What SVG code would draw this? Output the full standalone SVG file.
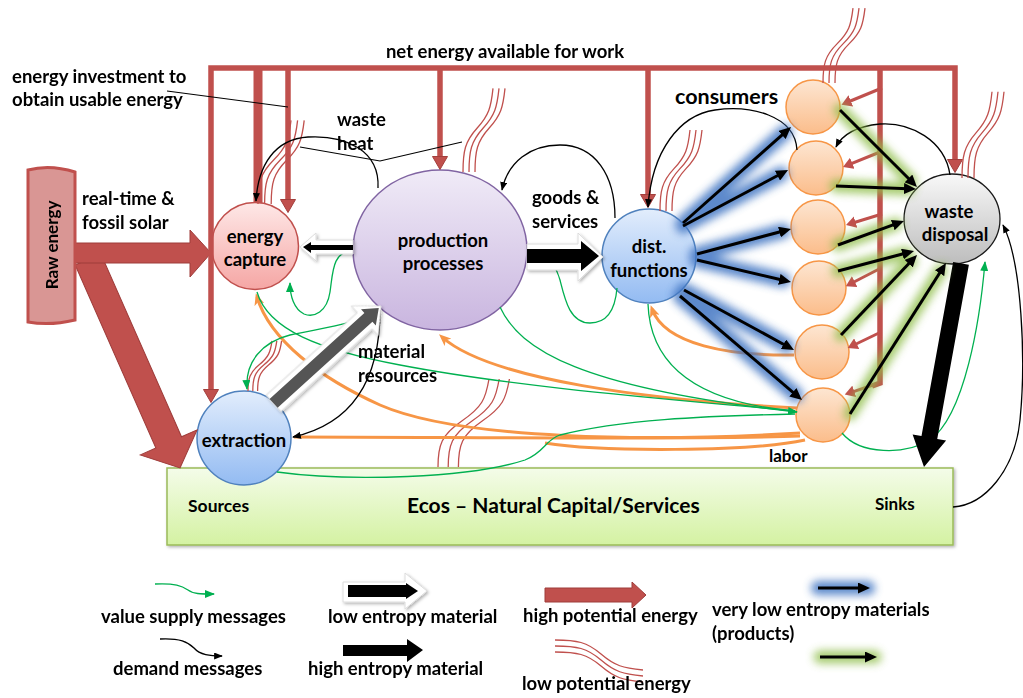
<svg xmlns="http://www.w3.org/2000/svg" xmlns:xlink="http://www.w3.org/1999/xlink" width="1023" height="698" viewBox="0 0 1023 698">
  <style>
    .t { font-family: Lato, "Open Sans", "Liberation Sans", sans-serif; font-weight: 700; fill: #000; font-size: 18.5px; }
    .dm { fill: none; stroke: #000; stroke-width: 1.3; }
    .sp { fill: none; stroke: #00b050; stroke-width: 1.3; }
    .lb { fill: none; stroke: #f79646; stroke-width: 3; }
    .re { fill: none; stroke: #c0504d; stroke-width: 5.5; }
    .ra { fill: none; stroke: #c0504d; stroke-width: 3; marker-end: url(#mRs); }
    .ar { fill: none; stroke: #000; stroke-width: 3; marker-end: url(#mArr); }
    .wv path { fill: none; stroke: #c0504d; stroke-width: 1.3; vector-effect: non-scaling-stroke; }
  </style>
  <defs>
    <linearGradient id="gCap" x1="0" y1="0" x2="0" y2="1"><stop offset="0" stop-color="#fee8e7"/><stop offset="1" stop-color="#f5a6a4"/></linearGradient>
    <linearGradient id="gProd" x1="0" y1="0" x2="0" y2="1"><stop offset="0" stop-color="#f0ebf7"/><stop offset="1" stop-color="#c9b5df"/></linearGradient>
    <linearGradient id="gBlue" x1="0" y1="0" x2="0" y2="1"><stop offset="0" stop-color="#e2edfc"/><stop offset="1" stop-color="#93bbf2"/></linearGradient>
    <linearGradient id="gOra" x1="0" y1="0" x2="0" y2="1"><stop offset="0" stop-color="#fde6d2"/><stop offset="1" stop-color="#fbbd8b"/></linearGradient>
    <linearGradient id="gGrey" x1="0" y1="0" x2="0" y2="1"><stop offset="0" stop-color="#f8f8f8"/><stop offset="1" stop-color="#bdbdbd"/></linearGradient>
    <linearGradient id="gEcos" x1="0" y1="0" x2="0" y2="1"><stop offset="0" stop-color="#f4fce9"/><stop offset="1" stop-color="#d4f2a2"/></linearGradient>
    <filter id="blur" filterUnits="userSpaceOnUse" x="0" y="0" width="1023" height="698"><feGaussianBlur stdDeviation="4.5"/></filter>
    <filter id="shd" filterUnits="userSpaceOnUse" x="0" y="0" width="1023" height="698"><feDropShadow dx="1.5" dy="1.5" stdDeviation="1.5" flood-color="#000" flood-opacity="0.3"/></filter>
    <marker id="mk" viewBox="0 0 10 8" refX="9" refY="4" markerWidth="9" markerHeight="7" orient="auto" markerUnits="userSpaceOnUse"><path d="M0,0 L10,4 L0,8 Z" fill="#000"/></marker>
    <marker id="mkG" viewBox="0 0 10 8" refX="9" refY="4" markerWidth="10" markerHeight="8" orient="auto" markerUnits="userSpaceOnUse"><path d="M0,0 L10,4 L0,8 Z" fill="#00b050"/></marker>
    <marker id="mkO" viewBox="0 0 12 10" refX="8" refY="5" markerWidth="12" markerHeight="10" orient="auto" markerUnits="userSpaceOnUse"><path d="M0,0 L12,5 L0,10 L3,5 Z" fill="#f79646"/></marker>
    <marker id="mArr" viewBox="0 0 12 11" refX="4" refY="5.5" markerWidth="12" markerHeight="11" orient="auto" markerUnits="userSpaceOnUse"><path d="M0,0 L12,5.5 L0,11 Z" fill="#000"/></marker>
    <marker id="mRed" viewBox="0 0 14 16" refX="4" refY="8" markerWidth="14" markerHeight="16" orient="auto-start-reverse" markerUnits="userSpaceOnUse"><path d="M0.5,0.5 L13.5,8 L0.5,15.5 Z" fill="#c0504d" stroke="#a33f3c" stroke-width="1"/></marker>
    <marker id="mRs" viewBox="0 0 10 12" refX="3" refY="6" markerWidth="10" markerHeight="12" orient="auto" markerUnits="userSpaceOnUse"><path d="M0,0 L10,6 L0,12 Z" fill="#c0504d"/></marker>
    <g id="wv" class="wv">
      <path d="M0,0 C0,-22 2,-32 14,-46 C26,-60 28,-68 30,-88"/>
      <path d="M6,0 C6,-22 8,-32 20,-46 C32,-60 34,-68 36,-88"/>
      <path d="M12,0 C12,-22 14,-32 26,-46 C38,-60 40,-68 42,-88"/>
    </g>
  </defs>

  <rect width="1023" height="698" fill="#fff"/>

  <!-- environment: sources and sinks -->
  <g id="ecos">
    <rect x="167" y="468" width="786" height="77" fill="url(#gEcos)" stroke="#9bbb59" stroke-width="1.5" filter="url(#shd)"/>
    <text class="t" x="188" y="512" style="font-size:17.5px">Sources</text>
    <text class="t" x="407" y="513" style="font-size:21px">Ecos – Natural Capital/Services</text>
    <text class="t" x="875" y="510" style="font-size:17px">Sinks</text>
  </g>

  <g id="energy-capture">
    <circle cx="255" cy="246" r="43.5" fill="url(#gCap)" stroke="#c0504d" stroke-width="1.5"/>
    <text class="t" x="255" y="243" text-anchor="middle">energy</text>
    <text class="t" x="255" y="266" text-anchor="middle">capture</text>
  </g>

  <g id="production">
    <ellipse cx="440" cy="250" rx="87" ry="80" fill="url(#gProd)" stroke="#8064a2" stroke-width="1.5"/>
    <text class="t" x="443" y="247" text-anchor="middle">production</text>
    <text class="t" x="443" y="270" text-anchor="middle">processes</text>
  </g>

  <g id="dist-functions">
    <circle cx="649" cy="256" r="47" fill="url(#gBlue)" stroke="#4f81bd" stroke-width="1.5"/>
    <text class="t" x="649" y="253" text-anchor="middle">dist.</text>
    <text class="t" x="649" y="277" text-anchor="middle">functions</text>
  </g>

  <g id="extraction">
    <circle cx="244" cy="438" r="47" fill="url(#gBlue)" stroke="#4f81bd" stroke-width="1.5"/>
    <text class="t" x="244" y="447" text-anchor="middle">extraction</text>
  </g>

  <g id="consumers">
    <text class="t" x="675" y="104" style="font-size:21.5px">consumers</text>
    <circle cx="813" cy="107" r="27" fill="url(#gOra)" stroke="#f79646" stroke-width="1.5"/>
    <circle cx="816" cy="168" r="27" fill="url(#gOra)" stroke="#f79646" stroke-width="1.5"/>
    <circle cx="818" cy="227" r="27" fill="url(#gOra)" stroke="#f79646" stroke-width="1.5"/>
    <circle cx="819" cy="288" r="27" fill="url(#gOra)" stroke="#f79646" stroke-width="1.5"/>
    <circle cx="822" cy="352" r="27" fill="url(#gOra)" stroke="#f79646" stroke-width="1.5"/>
    <circle cx="823" cy="415" r="27" fill="url(#gOra)" stroke="#f79646" stroke-width="1.5"/>
    <text class="t" x="769" y="462" style="font-size:17px">labor</text>
  </g>

  <g id="waste-disposal">
    <ellipse cx="952" cy="219" rx="48" ry="45" fill="url(#gGrey)" stroke="#1a1a1a" stroke-width="1.3"/>
    <text class="t" x="949" y="218" text-anchor="middle">waste</text>
    <text class="t" x="955" y="241" text-anchor="middle">disposal</text>
  </g>

  <g id="connectors">
    <!-- raw energy feeds -->
    <path d="M0,0 L-28,-31 L-28,-14 L-228,-14 L-228,14 L-28,14 L-28,31 Z" transform="translate(180,468) rotate(66.2)" fill="#c0504d" stroke="#9e3c3a" stroke-width="1"/>
    <path d="M72,243 L190,243 L190,230 L211,253 L190,277 L190,263 L72,263 Z" fill="#c0504d" stroke="#9e3c3a" stroke-width="1"/>

    <!-- net energy distribution frame -->
    <path class="re" d="M211,393 L211,68 L955,68 L955,163" marker-start="url(#mRed)" marker-end="url(#mRed)"/>
    <path d="M258,70 L258,203" fill="none" stroke="#c0504d" stroke-width="9"/>
    <path class="re" d="M288,70 L288,203" marker-end="url(#mRed)"/>
    <path class="re" d="M440,70 L440,160" marker-end="url(#mRed)"/>
    <path class="re" d="M648,70 L648,198" marker-end="url(#mRed)"/>
    <path class="re" d="M880,70 L880,383 L872,386"/>
    <path class="ra" d="M882,88 L848,102"/>
    <path class="ra" d="M880,152 L849.5,164.4"/>
    <path class="ra" d="M882,214 L852.7,223"/>
    <path class="ra" d="M881,268 L852,283"/>
    <path class="ra" d="M881,332 L854,345"/>
    <path class="ra" d="M873,385 L851.4,392.3"/>

    <!-- low potential energy (waste heat) -->
    <use href="#wv" transform="translate(258,204) scale(1.1,0.95)"/>
    <use href="#wv" transform="translate(463,172) scale(1,0.95)"/>
    <use href="#wv" transform="translate(660,211) scale(1,0.92)"/>
    <use href="#wv" transform="translate(823,83) scale(1,0.85)"/>
    <use href="#wv" transform="translate(962,178) scale(1,0.98)"/>
    <use href="#wv" transform="translate(248,391) scale(0.8,0.57)"/>
    <use href="#wv" transform="translate(438,467) scale(1.7,1)"/>

    <!-- callout lines -->
    <path d="M167,91 L288,107" fill="none" stroke="#000" stroke-width="1.2"/>
    <path d="M300,147 L380,161 L462,142" fill="none" stroke="#000" stroke-width="1.2"/>

    <!-- labor flows -->
    <path class="lb" d="M800,433 C650,442 460,440 380,405 C320,378 270,340 257,297" marker-end="url(#mkO)"/>
    <path class="lb" d="M797,408 C650,400 490,380 442,337" marker-end="url(#mkO)"/>
    <path class="lb" d="M800,436 C700,440 450,437 294,437"/>
    <path class="lb" d="M805,440 C750,452 600,452 545,443"/>
    <path class="lb" d="M794,355 C730,356 665,345 652,309" marker-end="url(#mkO)"/>

    <!-- value supply messages -->
    <path class="sp" d="M353,250 C332,252 333,272 330,292 C327,312 314,318 304,314 C294,309 290,296 290,283" marker-end="url(#mkG)"/>
    <path class="sp" d="M617,288 C615,312 605,323 590,323 C570,323 565,300 560,280 C555,262 545,252 528,250" marker-end="url(#mkG)"/>
    <path class="sp" d="M257,292 C268,330 320,350 400,365 C520,388 680,400 795,411"/>
    <path class="sp" d="M500,307 C520,350 580,388 797,412" marker-end="url(#mkG)"/>
    <path class="sp" d="M648,304 C650,360 690,402 795,411"/>
    <path class="sp" d="M277,472 C350,482 470,478 525,460 C545,452 545,440 560,435 C620,420 700,416 795,414"/>
    <path class="sp" d="M378,308 C360,325 320,328 290,335 C262,342 245,362 247,389" marker-end="url(#mkG)"/>
    <path class="sp" d="M842,433 C860,455 905,455 930,440 C965,415 980,320 985,262" marker-end="url(#mkG)"/>

    <!-- demand messages -->
    <path class="dm" d="M378,188 C380,150 345,135 308,137 C275,139 258,165 256,201" marker-end="url(#mk)"/>
    <path class="dm" d="M615,218 C615,175 595,145 560,145 C530,145 508,162 502,190" marker-end="url(#mk)"/>
    <path class="dm" d="M797,150 C795,115 750,105 715,110 C680,115 652,150 648,207" marker-end="url(#mk)"/>
    <path class="dm" d="M950,175 C945,140 910,122 880,124 C860,126 843,133 836,147" marker-end="url(#mk)"/>
    <path class="dm" d="M953,507 C985,505 1015,470 1020,420 C1026,360 1022,262 1003,225" marker-end="url(#mk)"/>
    <path class="dm" d="M380,310 C380,370 360,422 293,437" marker-end="url(#mk)"/>

    <!-- material flows -->
    <g filter="url(#shd)">
      <path d="M300,247 L316,233 L316,240 L353,240 L353,254 L316,254 L316,261 Z" fill="#fff" stroke="#dcdcdc" stroke-width="1"/>
      <path d="M603,257 L578,233 L578,244 L527,244 L527,270 L578,270 L578,281 Z" fill="#fff" stroke="#dcdcdc" stroke-width="1"/>
      <path d="M0,0 L-22,-20 L-22,-11 L-145,-11 L-145,11 L-22,11 L-22,20 Z" transform="translate(381,306) rotate(-42.2)" fill="#fff" stroke="#dcdcdc" stroke-width="1"/>
    </g>
    <path d="M303,247 L311,242 L311,245 L353,245 L353,250 L311,250 L311,253 Z" fill="#000"/>
    <path d="M599,256 L581,241 L581,249 L527,249 L527,263 L581,263 L581,271 Z" fill="#000"/>
    <path d="M-3,0 L-17,-11 L-17,-6 L-145,-6 L-145,6 L-17,6 L-17,11 Z" transform="translate(381,306) rotate(-42.2)" fill="#555"/>
    <path d="M0,0 L-30,-17 L-30,-8 L-207,-8 L-207,8 L-30,8 L-30,17 Z" transform="translate(924,467) rotate(100.3)" fill="#000"/>

    <!-- products to consumers -->
    <g filter="url(#blur)" stroke="#3f74c2" stroke-width="15" stroke-linecap="round" opacity="0.85" fill="none">
      <path d="M683,223 L785,132"/>
      <path d="M683,226 L781,174"/>
      <path d="M697,254 L783,231"/>
      <path d="M697,260 L783,280"/>
      <path d="M684,290 L787,346"/>
      <path d="M680,296 L796,395"/>
    </g>
    <path class="ar" d="M683,223 L785,132.3"/>
    <path class="ar" d="M683,226 L781,173.8"/>
    <path class="ar" d="M697,254 L783.3,231"/>
    <path class="ar" d="M697,260 L783.2,280.2"/>
    <path class="ar" d="M684,290 L787,346.2"/>
    <path class="ar" d="M680,296 L795.9,394.8"/>

    <!-- consumer waste -->
    <g filter="url(#blur)" stroke="#8fbe4a" stroke-width="13" stroke-linecap="round" opacity="0.8" fill="none">
      <path d="M840,110 L911,181"/>
      <path d="M836,186 L908,189"/>
      <path d="M838,245 L896,224"/>
      <path d="M838,271 L906,253"/>
      <path d="M841,335 L911,261"/>
      <path d="M850,414 L941,270"/>
    </g>
    <path class="ar" d="M840,110 L911.3,181.3"/>
    <path class="ar" d="M836,186 L908,188.7"/>
    <path class="ar" d="M838,245 L896.5,223.7"/>
    <path class="ar" d="M838,271 L906.3,253"/>
    <path class="ar" d="M841,335 L911.5,260.8"/>
    <path class="ar" d="M850,414 L941.7,269.8"/>
  </g>

  <g id="raw-energy">
    <path d="M28,170 Q50,164 75,172 L75,320 Q50,326 28,322 Z" fill="#d99694" stroke="#c0504d" stroke-width="3"/>
    <text class="t" transform="translate(58,245) rotate(-90)" style="font-size:17px" text-anchor="middle">Raw energy</text>
  </g>

  <g id="labels">
    <text class="t" x="505" y="58" text-anchor="middle">net energy available for work</text>
    <text class="t" x="12" y="83">energy investment to</text>
    <text class="t" x="12" y="106">obtain usable energy</text>
    <text class="t" x="337" y="126">waste</text>
    <text class="t" x="337" y="150">heat</text>
    <text class="t" x="82" y="205">real-time  &amp;</text>
    <text class="t" x="82" y="229">fossil solar</text>
    <text class="t" x="532" y="204">goods &amp;</text>
    <text class="t" x="532" y="228">services</text>
    <text class="t" x="358" y="358">material</text>
    <text class="t" x="358" y="382">resources</text>
  </g>

  <g id="legend">
    <path class="sp" d="M155,584 C175,583 182,586 188,590 C193,594 200,594 214,594" marker-end="url(#mkG)"/>
    <text class="t" x="101" y="623">value supply messages</text>
    <path class="dm" d="M160,639 C180,638 188,642 194,648 C200,655 210,656 222,656" marker-end="url(#mk)"/>
    <text class="t" x="113" y="675">demand messages</text>

    <path d="M427,591 L405,573 L405,582 L343,582 L343,602 L405,602 L405,609 Z" fill="#fff" stroke="#dcdcdc" stroke-width="1" filter="url(#shd)"/>
    <path d="M418,591 L406,583 L406,585 L348,585 L348,597 L406,597 L406,599 Z" fill="#000"/>
    <text class="t" x="328" y="623">low entropy material</text>
    <path d="M423,650 L407,639 L407,645 L343,645 L343,656 L407,656 L407,662 Z" fill="#000"/>
    <text class="t" x="308" y="675">high entropy material</text>

    <path d="M646,595 L632,582 L632,588 L545,588 L545,602 L632,602 L632,608 Z" fill="#c0504d" stroke="#9e3c3a" stroke-width="1"/>
    <text class="t" x="523" y="622">high potential energy</text>
    <use href="#wv" transform="translate(555,640) rotate(90)"/>
    <text class="t" x="522" y="690">low potential energy</text>

    <path d="M818,588 L868,588" stroke="#3f74c2" stroke-width="14" stroke-linecap="round" opacity="0.85" filter="url(#blur)"/>
    <path class="ar" d="M818,588 L862,588"/>
    <text class="t" x="712" y="616">very low entropy materials</text>
    <text class="t" x="712" y="640">(products)</text>
    <path d="M820,657 L875,657" stroke="#8fbe4a" stroke-width="13" stroke-linecap="round" opacity="0.8" filter="url(#blur)"/>
    <path class="ar" d="M820,657 L869,657"/>
  </g>
</svg>
